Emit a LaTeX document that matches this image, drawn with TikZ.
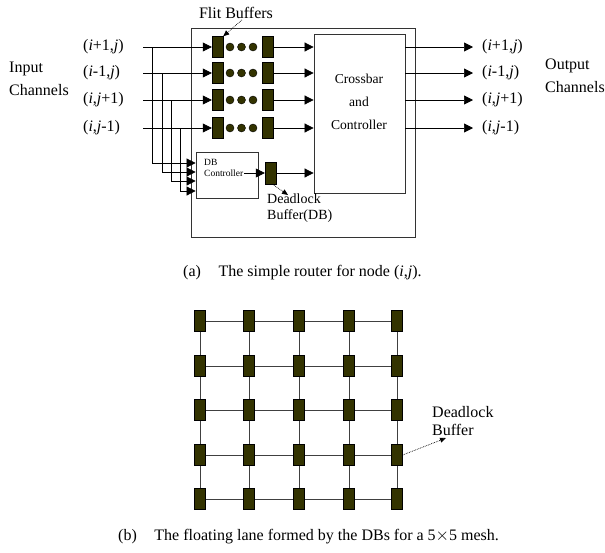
\documentclass[tikz,border=0pt]{standalone}
\usepackage{fontspec}
\setmainfont{Liberation Serif}
\usetikzlibrary{arrows.meta}
\definecolor{dbfill}{HTML}{333300}
\tikzset{
  buf/.style={draw=black, fill=dbfill, minimum width=11pt, minimum height=21pt, inner sep=0pt},
  fdot/.style={circle, draw=black, fill=dbfill, minimum size=8pt, inner sep=0pt},
  box/.style={draw=black!80, line width=0.8pt, inner sep=0pt},
  lbl/.style={font=\fontsize{16}{23}\selectfont, inner sep=1pt},
  slbl/.style={font=\fontsize{13.6}{23}\selectfont, inner sep=1pt},
  tlbl/.style={font=\fontsize{9.5}{11}\selectfont, inner sep=1pt},
  arr/.style={line width=0.7pt, -{Triangle[length=9pt,width=9pt]}},
  dotarr/.style={line width=0.7pt, densely dotted, -{Triangle[length=6pt,width=5pt]}},
  meshline/.style={line width=0.8pt, black!75},
}
\begin{document}
\begin{tikzpicture}[x=1pt, y=-1pt]
  \useasboundingbox (0,0) rectangle (605,552);
  % (a) router
  \node[box, minimum width=224pt, minimum height=209pt] (router) at (303,132.5) {};
  \node[box, minimum width=91pt, minimum height=159pt] (xbar) at (359.5,113.5) {};
  \node[slbl, align=center] (xbtxt) at (359,102) {Crossbar\\and\\Controller};
  \node[lbl] (flit) at (236,13) {Flit Buffers};
  \node[lbl, align=left, anchor=west] (inch) at (8,78.5) {Input\\Channels};
  \node[lbl, align=left, anchor=west] (outch) at (544,76) {Output\\Channels};
  % DB controller and deadlock buffer
  \node[box, minimum width=62pt, minimum height=46pt] (dbc) at (227,175) {};
  \node[tlbl, align=left, anchor=west] (dbtxt) at (203,168) {DB\\Controller};
  \node[buf, minimum height=22pt] (db) at (270.5,173) {};
  \node[font=\fontsize{14}{15.5}\selectfont, align=left, anchor=north west, inner sep=1pt] (dblab) at (266,193) {Deadlock\\Buffer(DB)};
  \coordinate (dbtip) at (288,195);
  \draw[arr] (dbtxt.east |- db) -- (db);
  \draw[arr] (db) -- (xbar.west |- db);
  \draw[dotarr] ([xshift=2pt]db.south) -- (dbtip);
  % channels
  \foreach \n/\y/\bx/\dy/\lab in {1/47/152/163/{(\textit{i}+1,\textit{j})},
      2/73/162/172/{(\textit{i}-1,\textit{j})},
      3/100/171/181/{(\textit{i},\textit{j}+1)},
      4/128/180/191/{(\textit{i},\textit{j}-1)}} {
    \node[lbl, anchor=west] (inlab\n) at (82,\y) {\lab};
    \node[lbl, anchor=west] (outlab\n) at (481,\y) {\lab};
    \coordinate (in\n) at (143,\y);
    \coordinate (br\n) at (\bx,\y);
    \coordinate (out\n) at (473,\y);
    \node[buf] (b\n a) at (217.5,\y) {};
    \node[fdot] (d\n a) at (230,\y) {};
    \node[fdot] (d\n b) at (241.5,\y) {};
    \node[fdot] (d\n c) at (253,\y) {};
    \node[buf] (b\n b) at (268,\y) {};
    \draw[arr] (in\n) -- (b\n a);
    \draw[arr] (br\n) |- (dbc.west |- 0,\dy);
    \draw[arr] (b\n b) -- (xbar.west |- b\n b);
    \draw[arr] (xbar.east |- out\n) -- (out\n);
  }
  \draw[dotarr] ([xshift=6pt]flit.south) -- (b1a.north east);
  \node[lbl, anchor=west] (capa) at (182,273) {(a)\hspace{1.1em}The simple router for node (\textit{i},\textit{j}).};
  % (b) 5x5 mesh of deadlock buffers
  \foreach \c/\mx in {1/200,2/249,3/299,4/349,5/397} {
    \foreach \r/\my in {1/321,2/366,3/410,4/455,5/499} {
      \node[buf] (m\r\c) at (\mx,\my) {};
    }
  }
  \foreach \r in {1,2,3,4,5} {
    \foreach \c [count=\cc from 2] in {1,2,3,4} {
      \draw[meshline] (m\r\c) -- (m\r\cc);
      \draw[meshline] (m\c\r) -- (m\cc\r);
    }
  }
  \node[lbl, align=left, anchor=west] (mlab) at (431,421) {Deadlock\\[-5pt]Buffer};
  \coordinate (mtip) at (446,438);
  \draw[dotarr] (m45.east) -- (mtip);
  \node[lbl, anchor=west] (capb) at (117,537) {(b)\hspace{1.1em}The floating lane formed by the DBs for a 5$\times$5 mesh.};
\end{tikzpicture}
\end{document}
